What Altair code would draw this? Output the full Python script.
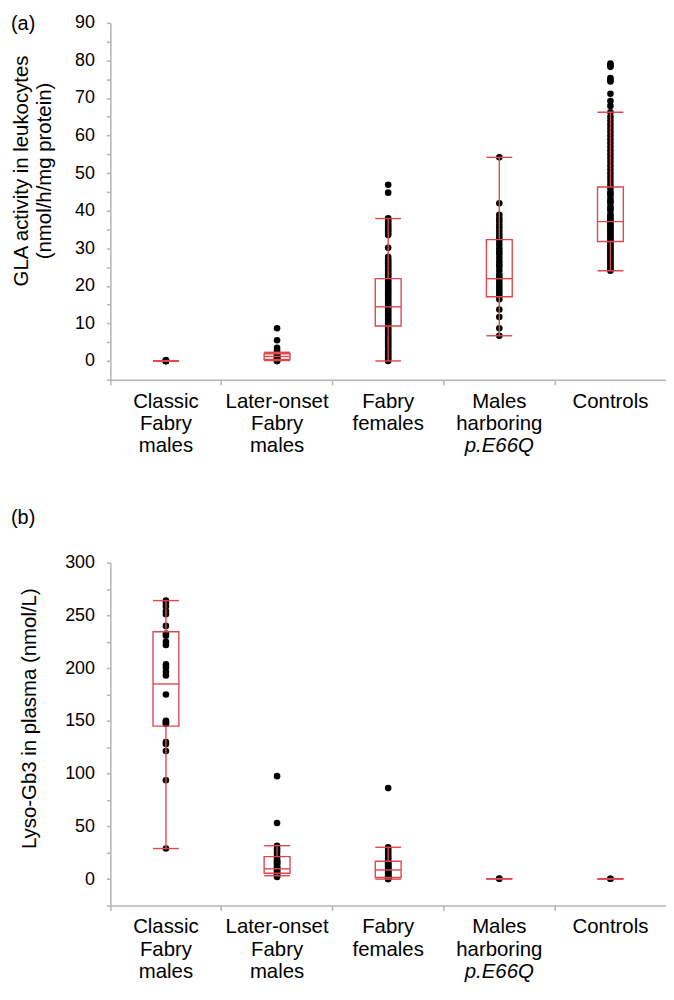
import altair as alt
import pandas as pd

# ---------------- data ----------------
cats = ["Classic Fabry males", "Later-onset Fabry males", "Fabry females",
        "Males harboring p.E66Q", "Controls"]
line1 = ["Classic", "Later-onset", "Fabry", "Males", "Controls"]
line2 = ["Fabry", "Fabry", "females", "harboring", ""]
line3 = ["males", "males", "", "p.E66Q", ""]
line3_italic = [False, False, False, True, False]

title_a = ["GLA activity in leukocytes", "(nmol/h/mg protein)"]
title_b = ["Lyso-Gb3 in plasma (nmol/L)"]

# (a) GLA activity in leukocytes (nmol/h/mg protein) -- individual points
gla_classic = [0, 0, 0, 0, 0.1, 0.2, 0.1, 0]
gla_later = [8.7, 5.5, 3.5, 2.8, 2.2, 1.8, 1.5, 1.2, 1.0, 0.8, 0.6, 0.4, 0.2, 0.0, 0.0]
gla_females = [46.9, 44.8, 38, 37.5, 37, 36.5, 36, 35.5, 35, 34.5, 34, 33.5, 30.1,
               27.7, 27, 26.5, 26, 25.5, 25, 24.5, 24, 23.5, 23, 22.5, 22, 21.5, 21,
               20.5, 20, 19.5, 19, 18.5, 18, 17.5, 17, 16.5, 16, 15.5, 15, 14.5, 14,
               13.5, 13, 12.5, 12, 11.5, 11, 10.5, 10, 9.5, 9, 8.5, 8, 7.5, 7, 6.5, 6,
               5.5, 5, 4.5, 4, 3.5, 3, 2.5, 2, 1.5, 1, 0.5, 0]
gla_e66q = [54.2, 42, 38.9, 38, 37.2, 36.3, 35.5, 34.6, 33.7, 32.9, 32, 31, 30, 29.2,
            28.5, 27.5, 26.5, 25.7, 25, 24, 23, 22.3, 21.9, 21, 20.2, 19.5, 18.7, 18,
            17.2, 16.4, 13.7, 11.7, 8.7, 6.7]
gla_controls = [79.2, 78.7, 78.3, 75.3, 74.8, 74.4, 71.1, 69.2, 67.9, 66.2, 65, 64, 63,
                62, 61, 60, 59, 58, 57, 56, 55, 54, 53, 52, 51, 50, 49, 48, 47, 46, 45,
                44.5, 44, 43, 42.5, 42, 41, 40.5, 40, 39, 38.5, 38, 37.5, 37, 36.5, 36,
                35.5, 35, 34.5, 34, 33.5, 33, 32.5, 32, 31.5, 31, 30.5, 30, 29.5, 29,
                28.5, 28, 27.5, 27, 26.5, 26, 25.5, 25, 24.5, 24]

# box statistics (a): whisker low, Q1, median, Q3, whisker high
gla_wlo = [0, 0.1, 0, 6.7, 24.0]
gla_q1 = [0, 0.4, 9.3, 17.1, 31.8]
gla_med = [0, 1.2, 14.4, 21.9, 37.1]
gla_q3 = [0, 1.9, 21.9, 32.3, 46.3]
gla_whi = [0, 2.3, 37.9, 54.2, 66.2]

# (b) Lyso-Gb3 in plasma (nmol/L)
lyso_classic = [264, 262, 258.6, 254, 251, 240, 232.8, 230.6, 225, 222, 203.5, 200.5,
                196.6, 193, 175, 150, 149, 148, 147, 130, 128, 121.5, 93.7, 29]
lyso_later = [97.6, 53.2, 31.7, 29, 27, 25, 22, 20, 18, 17, 16, 15, 14, 12, 11, 10, 9,
              8, 7, 6, 5, 4, 3, 2]
lyso_females = [86.3, 30.2, 28, 26, 24, 22, 20, 18, 16, 15, 14, 13, 12, 11, 10, 9, 8,
                7, 6, 5, 4, 3, 2, 1.5, 1, 0.5, 0]
lyso_e66q = [0.3, 0.5]
lyso_controls = [0.3, 0.4]

lyso_wlo = [29, 3.2, 0, 0.4, 0.4]
lyso_q1 = [145, 5.6, 1.6, 0.4, 0.4]
lyso_med = [185, 9.8, 8.7, 0.4, 0.4]
lyso_q3 = [234.5, 21.3, 17, 0.4, 0.4]
lyso_whi = [264, 31.7, 30.2, 0.4, 0.4]

# ---------------- style ----------------
RED = "#e0474f"
GRAY = "#b4b4b4"
FONT = "Liberation Sans"
W = 559
BOX_W = 26
LW = 1.4


def points_df(groups):
    rows = []
    for c, vals in zip(cats, groups):
        for v in vals:
            rows.append({"cat": c, "val": v})
    return pd.DataFrame(rows)


def stats_df(wlo, q1, med, q3, whi):
    return pd.DataFrame({"cat": cats, "wlo": wlo, "q1": q1, "med": med,
                         "q3": q3, "whi": whi})


def panel(pts, st, domain, step, label_step, title_lines, title_x, title_y,
          height, tag, tag_y):
    xenc = alt.X("cat:N", sort=cats,
                 scale=alt.Scale(paddingInner=0, paddingOuter=0),
                 axis=alt.Axis(labels=False, title=None, bandPosition=0,
                               tickSize=5, tickColor=GRAY, domainColor=GRAY,
                               domainWidth=1.5, tickWidth=1.5, grid=False))
    yaxis = alt.Axis(values=list(range(domain[0], domain[1] + 1, step)),
                     labelExpr=f"datum.value % {label_step} == 0 && datum.value >= 0 ? datum.label : ''",
                     title=None,
                     labelFontSize=18, labelColor="black", labelFont=FONT,
                     labelPadding=12, tickSize=4, tickColor=GRAY, domainColor=GRAY,
                     domainWidth=1.5, tickWidth=1.5, grid=False)
    yscale = alt.Scale(domain=list(domain), nice=False, zero=False)

    def Y(f):
        return alt.Y(f"{f}:Q", scale=yscale, axis=yaxis)

    base_st = alt.Chart(st)
    pts_layer = alt.Chart(pts).mark_circle(size=44, color="black", opacity=1).encode(
        x=xenc, y=Y("val"))
    box = base_st.mark_bar(width=BOX_W, fillOpacity=0, stroke=RED, strokeWidth=LW,
                           color=RED).encode(x=xenc, y=Y("q1"), y2="q3")
    wh_up = base_st.mark_rule(color=RED, strokeWidth=LW).encode(x=xenc, y=Y("q3"), y2="whi")
    wh_lo = base_st.mark_rule(color=RED, strokeWidth=LW).encode(x=xenc, y=Y("wlo"), y2="q1")
    med = base_st.mark_tick(size=BOX_W, thickness=LW, color=RED, orient="horizontal",
                            opacity=1).encode(x=xenc, y=Y("med"))
    cap_hi = base_st.mark_tick(size=BOX_W, thickness=LW, color=RED, orient="horizontal",
                               opacity=1).encode(x=xenc, y=Y("whi"))
    cap_lo = base_st.mark_tick(size=BOX_W, thickness=LW, color=RED, orient="horizontal",
                               opacity=1).encode(x=xenc, y=Y("wlo"))

    # category labels (multi-line, one layer per line)
    l1 = pd.DataFrame({"cat": cats, "t": line1})
    l2 = pd.DataFrame({"cat": cats, "t": line2})
    l3n = pd.DataFrame({"cat": [c for c, i in zip(cats, line3_italic) if not i],
                        "t": [t for t, i in zip(line3, line3_italic) if not i]})
    l3i = pd.DataFrame({"cat": [c for c, i in zip(cats, line3_italic) if i],
                        "t": [t for t, i in zip(line3, line3_italic) if i]})
    txt = dict(fontSize=20.5, font=FONT, color="black", align="center", baseline="middle")
    t1 = alt.Chart(l1).mark_text(**txt).encode(x=xenc, y=alt.value(height + 22), text="t:N")
    t2 = alt.Chart(l2).mark_text(**txt).encode(x=xenc, y=alt.value(height + 45), text="t:N")
    t3 = alt.Chart(l3n).mark_text(**txt).encode(x=xenc, y=alt.value(height + 67), text="t:N")
    t4 = alt.Chart(l3i).mark_text(fontStyle="italic", **txt).encode(
        x=xenc, y=alt.value(height + 67), text="t:N")

    # rotated y-axis title, one text mark per line
    tlayers = []
    for i, line in enumerate(title_lines):
        tlayers.append(alt.Chart(pd.DataFrame({"t": [line]})).mark_text(
            fontSize=20.5, font=FONT, color="black", align="center",
            baseline="middle", angle=270).encode(
            x=alt.value(title_x[i]), y=alt.value(title_y), text="t:N"))

    tagc = alt.Chart(pd.DataFrame({"t": [tag]})).mark_text(
        fontSize=20, font=FONT, color="black", align="left", baseline="middle").encode(
        x=alt.value(-100), y=alt.value(tag_y), text="t:N")

    return alt.layer(pts_layer, box, wh_up, wh_lo, med, cap_hi, cap_lo,
                     t1, t2, t3, t4, tagc, *tlayers).properties(width=W, height=height)


top = panel(points_df([gla_classic, gla_later, gla_females, gla_e66q, gla_controls]),
            stats_df(gla_wlo, gla_q1, gla_med, gla_q3, gla_whi),
            (-5, 90), 5, 10, title_a, [-89, -66], 149, 359, "(a)", 1)
bottom = panel(points_df([lyso_classic, lyso_later, lyso_females, lyso_e66q, lyso_controls]),
               stats_df(lyso_wlo, lyso_q1, lyso_med, lyso_q3, lyso_whi),
               (-25, 300), 25, 50, title_b, [-81], 157, 345, "(b)", -45)

chart = alt.vconcat(top, bottom, spacing=184, bounds="flush").properties(
    padding={"left": 3, "top": 3, "right": 0, "bottom": 0}, background="white"
).configure_view(strokeWidth=0)

chart.save("out.html", embed_options={"renderer": "svg", "actions": False})
